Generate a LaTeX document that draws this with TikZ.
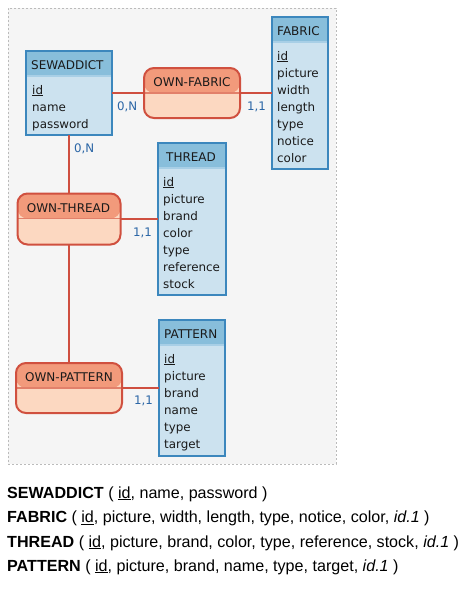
\documentclass[tikz,border=0pt]{standalone}
\usepackage{fontspec}
\newfontfamily\diagfont{DejaVu Sans}
\newfontfamily\footfont{Liberation Sans}
\usetikzlibrary{calc}
\definecolor{ebord}{HTML}{3C87BD}
\definecolor{ehead}{HTML}{88BEDB}
\definecolor{ebody}{HTML}{CCE2EF}
\definecolor{ediv}{HTML}{A8CFE6}
\definecolor{abord}{HTML}{D0503F}
\definecolor{ahead}{HTML}{F29A7B}
\definecolor{abody}{HTML}{FCD8C1}
\definecolor{adiv}{HTML}{E2806A}
\definecolor{lnk}{HTML}{CF4F3F}
\definecolor{card}{HTML}{2B66A6}
\definecolor{framefill}{HTML}{F5F5F5}
\definecolor{framedraw}{HTML}{BBBBBB}
\definecolor{txt}{HTML}{1A1A1A}
\begin{document}
\begin{tikzpicture}[x=1pt,y=-1pt,
  entbox/.style={draw=ebord, line width=2pt, fill=ebody, inner sep=0pt, outer sep=0pt,
    path picture={\fill[ehead] (path picture bounding box.north west) rectangle ([yshift=-25pt]path picture bounding box.north east);
      \draw[ediv, line width=1.2pt] ([yshift=-25pt]path picture bounding box.north west) -- ([yshift=-25pt]path picture bounding box.north east);}},
  assocbox/.style={draw=abord, line width=2pt, fill=abody, rounded corners=10pt, inner sep=0pt, outer sep=0pt,
    path picture={\fill[ahead] (path picture bounding box.north west) rectangle ([yshift=-25pt]path picture bounding box.north east);
      \draw[adiv, line width=1.2pt] ([yshift=-25pt]path picture bounding box.north west) -- ([yshift=-25pt]path picture bounding box.north east);}},
  link/.style={draw=lnk, line width=2pt},
  ttl/.style={font=\diagfont\fontsize{12}{14}\selectfont, text=txt, inner sep=0pt, anchor=base west},
  attr/.style={font=\diagfont\fontsize{11.9}{14}\selectfont, text=txt, inner sep=0pt, anchor=base west},
  cardlbl/.style={font=\diagfont\fontsize{11.8}{14}\selectfont, text=card, inner sep=0pt, anchor=base west},
  foottxt/.style={font=\footfont\fontsize{16.1}{19}\selectfont, text=black, inner sep=0pt, anchor=base west}
]
\useasboundingbox (0,0) rectangle (472,597);
% frame
\node[draw=framedraw, fill=framefill, dash pattern=on 2pt off 2pt, line width=0.8pt,
  minimum width=328pt, minimum height=456pt, inner sep=0pt, outer sep=0pt] (frame) at (172,236) {};

% boxes (geometry)
\node[entbox, minimum width=86pt, minimum height=84pt] (sew) at (69,93) {};
\node[entbox, minimum width=56pt, minimum height=152pt] (fab) at (300,93) {};
\node[entbox, minimum width=68pt, minimum height=152pt] (thr) at (192,219) {};
\node[entbox, minimum width=66pt, minimum height=136pt] (pat) at (192,388) {};
\node[assocbox, minimum width=96pt, minimum height=50pt] (ofab) at (192,93) {};
\node[assocbox, minimum width=103pt, minimum height=51pt] (othr) at (69,219) {};
\node[assocbox, minimum width=106pt, minimum height=50pt] (opat) at (69,388) {};

% connectors
\draw[link] (sew.east) -- (ofab.west);
\draw[link] (ofab.east) -- (fab.west);
\draw[link] (sew.south) -- (sew.south |- othr.north);
\draw[link] (othr.east) -- (othr.east -| thr.west);
\draw[link] (othr.south) -- (othr.south |- opat.north);
\draw[link] (opat.east) -- (opat.east -| pat.west);

% titles
\node[ttl] (sewt) at (31,69) {SEWADDICT};
\node[ttl] (fabt) at (277,35) {FABRIC};
\node[ttl] (thrt) at (166,161) {THREAD};
\node[ttl] (patt) at (164,338) {PATTERN};
\node[ttl, anchor=base] (ofabt) at (192,86) {OWN-FABRIC};
\node[ttl, anchor=base] (othrt) at (68.5,212) {OWN-THREAD};
\node[ttl, anchor=base] (opatt) at (69,381) {OWN-PATTERN};

% attributes
\foreach \t [count=\i from 0] in {{\underline{id}},name,password}
  \node[attr] (sewa\i) at (32,94+17*\i) {\t};
\foreach \t [count=\i from 0] in {{\underline{id}},picture,width,length,type,notice,color}
  \node[attr] (faba\i) at (277,60+17*\i) {\t};
\foreach \t [count=\i from 0] in {{\underline{id}},picture,brand,color,type,reference,stock}
  \node[attr] (thra\i) at (163,186+17*\i) {\t};
\foreach \t [count=\i from 0] in {{\underline{id}},picture,brand,name,type,target}
  \node[attr] (pata\i) at (164,363+17*\i) {\t};

% cardinalities
\node[cardlbl] (c1) at (117,110) {0,N};
\node[cardlbl] (c2) at (247,110) {1,1};
\node[cardlbl] (c3) at (74,152) {0,N};
\node[cardlbl] (c4) at (133,236) {1,1};
\node[cardlbl] (c5) at (134,404) {1,1};

% relational schema
\node[foottxt] (r1) at (7,498) {\textbf{SEWADDICT} ( \underline{id}, name, password )};
\node[foottxt] (r2) at (7,522.5) {\textbf{FABRIC} ( \underline{id}, picture, width, length, type, notice, color, \textit{id.1} )};
\node[foottxt] (r3) at (7,547) {\textbf{THREAD} ( \underline{id}, picture, brand, color, type, reference, stock, \textit{id.1} )};
\node[foottxt] (r4) at (7,571) {\textbf{PATTERN} ( \underline{id}, picture, brand, name, type, target, \textit{id.1} )};
\end{tikzpicture}
\end{document}
